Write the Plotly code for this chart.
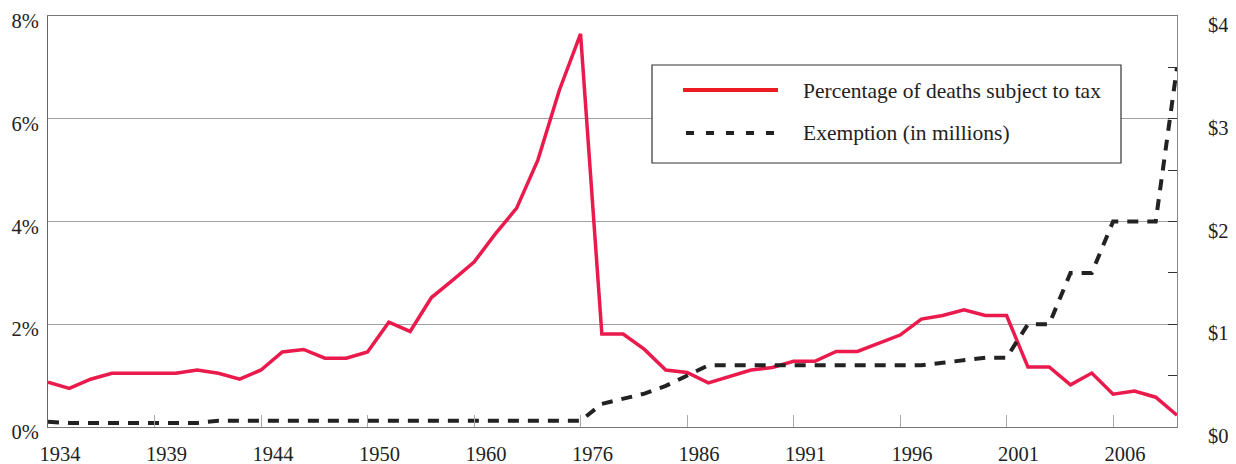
import plotly.graph_objects as go

years = ["1934", "1935", "1936", "1937", "1938", "1939", "1940", "1941", "1942", "1943",
         "1944", "1945", "1946", "1947", "1948", "1950", "1951", "1954", "1956", "1958",
         "1960", "1962", "1965", "1969", "1972", "1976", "1982", "1983", "1984", "1985",
         "1986", "1987", "1988", "1989", "1990", "1991", "1992", "1993", "1994", "1995",
         "1996", "1997", "1998", "1999", "2000", "2001", "2002", "2003", "2004", "2005",
         "2006", "2007", "2008", "2009"]

pct_taxed = [0.87, 0.75, 0.93, 1.045, 1.045, 1.045, 1.045, 1.11, 1.045, 0.93,
             1.11, 1.46, 1.51, 1.34, 1.34, 1.46, 2.04, 1.86, 2.52, 2.86,
             3.21, 3.76, 4.26, 5.20, 6.55, 7.65, 1.81, 1.81, 1.51, 1.11,
             1.06, 0.86, 0.98, 1.11, 1.16, 1.28, 1.28, 1.47, 1.47, 1.63,
             1.79, 2.10, 2.17, 2.28, 2.17, 2.17, 1.17, 1.17, 0.82, 1.05,
             0.64, 0.70, 0.58, 0.23]

exemption = [0.05, 0.04, 0.04, 0.04, 0.04, 0.04, 0.04, 0.04, 0.06, 0.06,
             0.06, 0.06, 0.06, 0.06, 0.06, 0.06, 0.06, 0.06, 0.06, 0.06,
             0.06, 0.06, 0.06, 0.06, 0.06, 0.06, 0.225, 0.275, 0.325, 0.40,
             0.50, 0.60, 0.60, 0.60, 0.60, 0.60, 0.60, 0.60, 0.60, 0.60,
             0.60, 0.60, 0.625, 0.65, 0.675, 0.675, 1.0, 1.0, 1.5, 1.5,
             2.0, 2.0, 2.0, 3.5]

x_tick_years = ["1934", "1939", "1944", "1950", "1960", "1976", "1986", "1991", "1996", "2001", "2006"]
left_ticks = [0, 2, 4, 6, 8]
left_labels = ["0%", "2%", "4%", "6%", "8%"]
right_ticks = [0, 0.5, 1, 1.5, 2, 2.5, 3, 3.5, 4]
right_labels = ["$0", "", "$1", "", "$2", "", "$3", "", "$4"]
legend_names = ["Percentage of deaths subject to tax", "Exemption (in millions)"]

RED = "#EA1A4C"
BLACK = "#222222"
FONT = "Liberation Serif"

# the page body has an 8px default margin, so the figure is drawn 8px in
OFF = 8
W, H = 1236 - OFF, 464 - OFF
ML, MR, MT, MB = 48 - OFF, 59, 16 - OFF, 37
PW, PH = W - ML - MR, H - MT - MB


def px_x(p):
    return (p - OFF - ML) / PW


def px_y(p):
    return (H - MB - (p - OFF)) / PH


fig = go.Figure()
fig.add_trace(go.Scatter(x=years, y=pct_taxed, mode="lines", name=legend_names[0],
                         line=dict(color=RED, width=3.5), yaxis="y", showlegend=False))
fig.add_trace(go.Scatter(x=years, y=exemption, mode="lines", name=legend_names[1],
                         line=dict(color=BLACK, width=4, dash="11px,9px"), yaxis="y2",
                         showlegend=False))

shapes = [
    dict(type="rect", xref="paper", yref="paper", x0=px_x(652), x1=px_x(1121),
         y0=px_y(163), y1=px_y(65), line=dict(color="#333333", width=1.2),
         fillcolor="white", layer="above"),
    dict(type="line", xref="paper", yref="paper", x0=px_x(683), x1=px_x(778),
         y0=px_y(90), y1=px_y(90), line=dict(color="#ED1C24", width=4), layer="above"),
    dict(type="line", xref="paper", yref="paper", x0=px_x(686), x1=px_x(775),
         y0=px_y(133), y1=px_y(133), line=dict(color=BLACK, width=4, dash="8px,12px"),
         layer="above"),
]
annotations = [
    dict(text=legend_names[0], xref="paper", yref="paper", x=px_x(801), y=px_y(91),
         xanchor="left", yanchor="middle", showarrow=False,
         font=dict(family=FONT, size=21.5, color="#222222")),
    dict(text=legend_names[1], xref="paper", yref="paper", x=px_x(801), y=px_y(133),
         xanchor="left", yanchor="middle", showarrow=False,
         font=dict(family=FONT, size=21.5, color="#222222")),
]

fig.update_layout(
    width=W, height=H,
    margin=dict(l=ML, r=MR, t=MT, b=MB, pad=0, autoexpand=False),
    paper_bgcolor="white", plot_bgcolor="white",
    font=dict(family=FONT, size=20.5, color="#222222"),
    shapes=shapes, annotations=annotations,
    xaxis=dict(type="category", range=[0, len(years) - 1], automargin=False,
               tickmode="array", tickvals=x_tick_years, ticktext=x_tick_years,
               ticks="inside", ticklen=12, tickcolor="#aaaaaa", tickwidth=1,
               showline=True, linecolor="#777777", linewidth=1, mirror=True,
               showgrid=False, zeroline=False,
               ticklabelstandoff=8, ticklabelshift=12),
    yaxis=dict(range=[0, 8], tickmode="array", tickvals=left_ticks, ticktext=left_labels,
               automargin=False,
               showgrid=True, gridcolor="#a0a0a0", gridwidth=1, zeroline=False,
               showline=True, linecolor="#666666", linewidth=1,
               ticks="", ticklabelstandoff=4, ticklabelshift=5),
    yaxis2=dict(range=[0, 4], overlaying="y", side="right", automargin=False,
                tickmode="array", tickvals=right_ticks, ticktext=right_labels,
                ticks="inside", ticklen=9, tickcolor="#333333", tickwidth=1,
                showgrid=False, zeroline=False,
                showline=True, linecolor="#888888", linewidth=1,
                ticklabelstandoff=26, ticklabelshift=9),
)

fig.write_html("out.html")
